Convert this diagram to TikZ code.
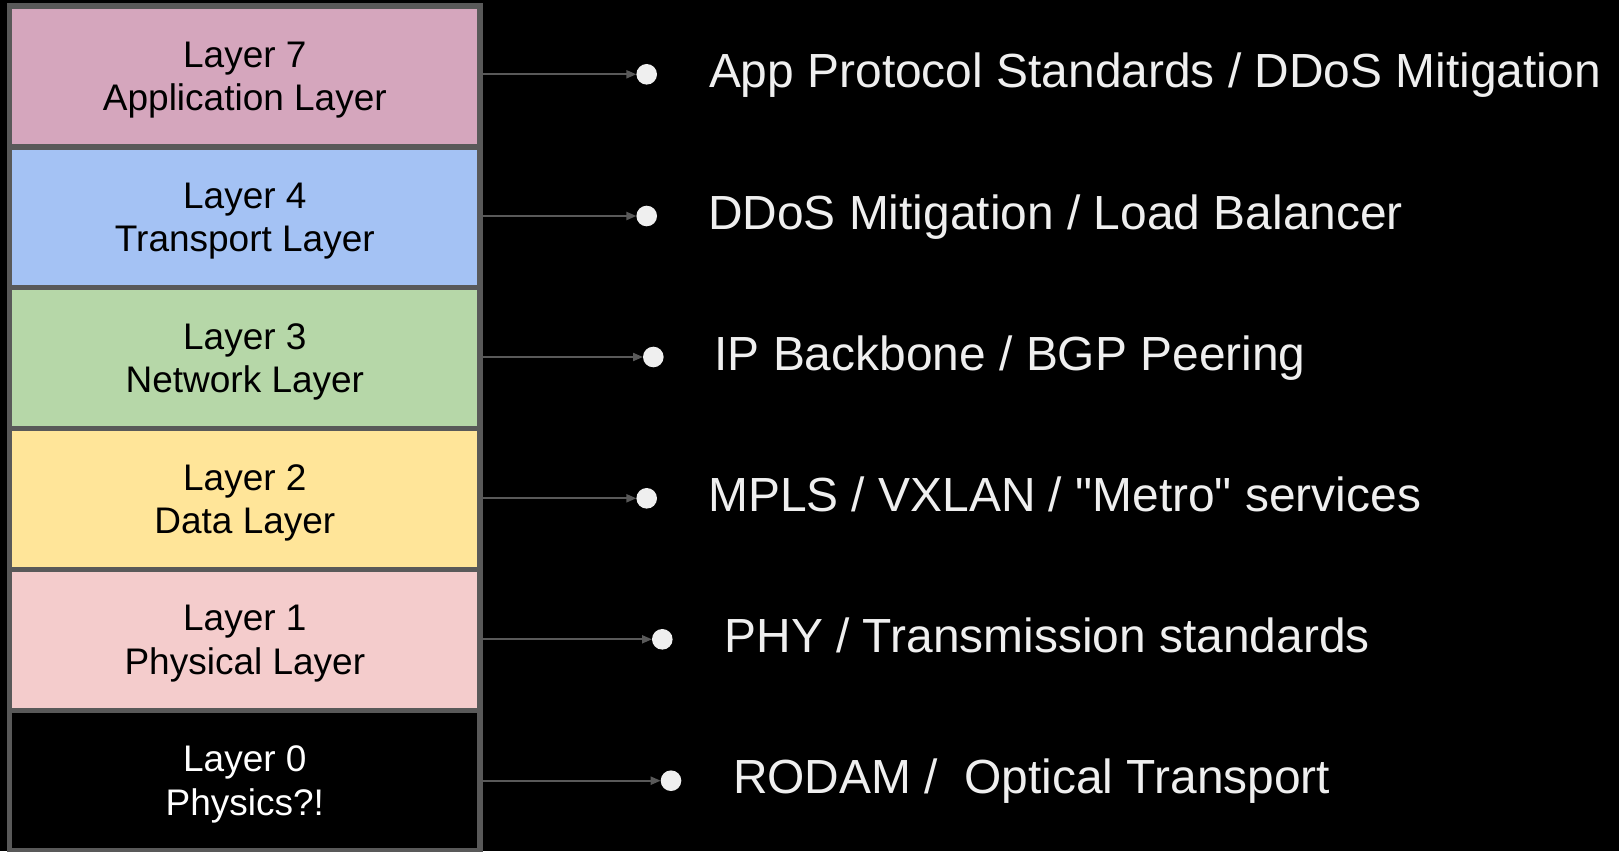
\documentclass[tikz,border=0pt]{standalone}
\usepackage{fontspec}
\setmainfont{Liberation Sans}[Ligatures=TeXOff]
\usetikzlibrary{arrows.meta}
\definecolor{bordergray}{HTML}{595959}
\definecolor{dotgray}{HTML}{EFEFEF}
\definecolor{lseven}{HTML}{D5A6BD}
\definecolor{lfour}{HTML}{A4C2F4}
\definecolor{lthree}{HTML}{B6D7A8}
\definecolor{ltwo}{HTML}{FFE599}
\definecolor{lone}{HTML}{F4CCCC}
\begin{document}
\begin{tikzpicture}[x=1pt,y=-1pt,
  cell/.style={draw=bordergray, line width=5.5pt, minimum width=470.7pt,
    minimum height=140.85pt, inner sep=0pt, outer sep=0pt, align=center,
    text depth=0pt, font=\fontsize{37}{43.3}\selectfont},
  dot/.style={circle, fill=dotgray, minimum size=20.6pt, inner sep=0pt, outer sep=0pt},
  conn/.style={draw=bordergray, line width=2pt, -{Triangle[length=10pt,width=8pt]}},
  lbl/.style={text=dotgray, anchor=base west, inner sep=0pt, outer sep=0pt,
    font=\fontsize{47.9}{57}\selectfont}]
\fill[black] (0,0) rectangle (1619,851);
\useasboundingbox (0,0) rectangle (1619,851);

\node[dot] (d7) at (646.7,74.3) {};
\node[dot] (d4) at (646.7,216) {};
\node[dot] (d3) at (653.3,357) {};
\node[dot] (d2) at (646.7,498.3) {};
\node[dot] (d1) at (662.3,639.3) {};
\node[dot] (d0) at (671,780.7) {};

\node[cell, fill=lseven] (c7) at (244.85,76.425) {Layer 7\\Application Layer};
\node[cell, fill=lfour] (c4) at (244.85,217.275) {Layer 4\\Transport Layer};
\node[cell, fill=lthree] (c3) at (244.85,358.125) {Layer 3\\Network Layer};
\node[cell, fill=ltwo] (c2) at (244.85,498.975) {Layer 2\\Data Layer};
\node[cell, fill=lone] (c1) at (244.85,639.825) {Layer 1\\Physical Layer};
\node[cell, fill=black, text=white] (c0) at (244.85,780.675) {Layer 0\\Physics?!};

\draw[conn] (c7.east |- d7.west) -- (d7.west);
\draw[conn] (c4.east |- d4.west) -- (d4.west);
\draw[conn] (c3.east |- d3.west) -- (d3.west);
\draw[conn] (c2.east |- d2.west) -- (d2.west);
\draw[conn] (c1.east |- d1.west) -- (d1.west);
\draw[conn] (c0.east |- d0.west) -- (d0.west);

\node[lbl] (t7) at (709,87.3) {App Protocol Standards / DDoS Mitigation};
\node[lbl] (t4) at (708,229) {DDoS Mitigation / Load Balancer};
\node[lbl] (t3) at (714.5,370) {IP Backbone / BGP Peering};
\node[lbl] (t2) at (708.2,511.3) {MPLS / VXLAN / "Metro" services};
\node[lbl] (t1) at (724.6,652.3) {PHY / Transmission standards};
\node[lbl] (t0) at (733,793.7) {RODAM /\ \ Optical Transport};
\end{tikzpicture}
\end{document}
